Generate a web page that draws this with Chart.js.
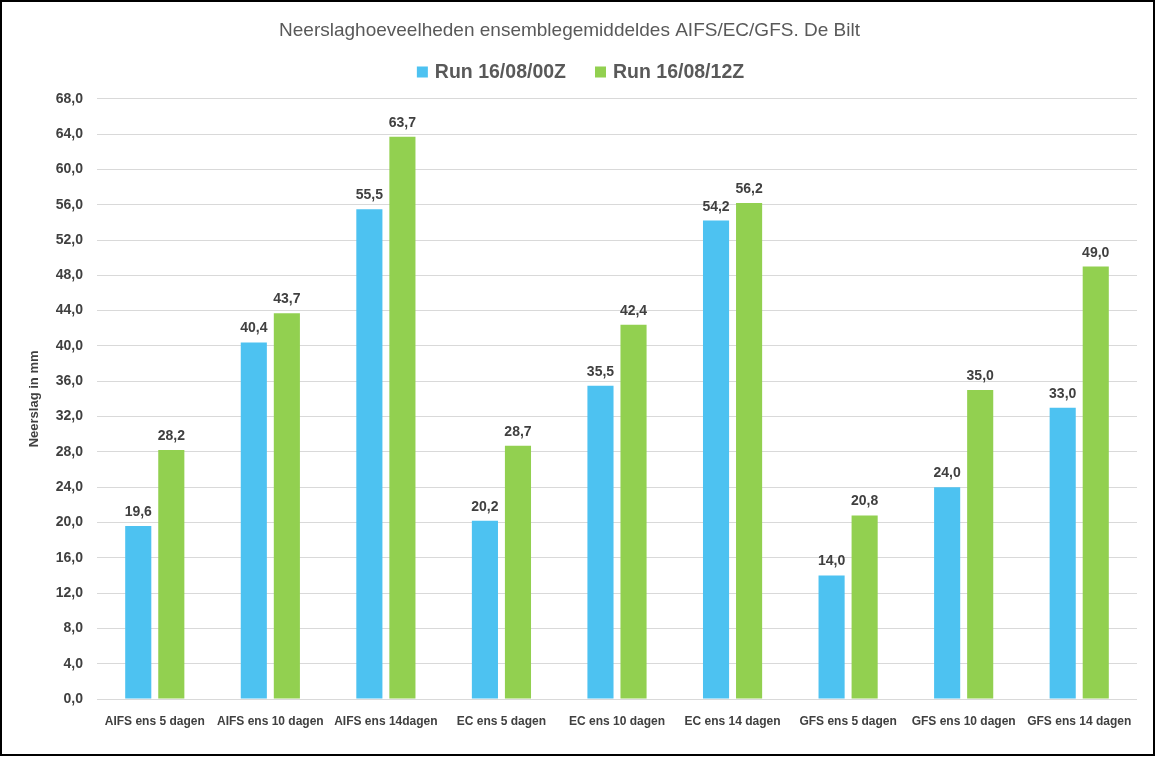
<!DOCTYPE html>
<html>
<head>
<meta charset="utf-8">
<script src="https://cdn.jsdelivr.net/npm/chart.js@4.4.1/dist/chart.umd.min.js"></script>
<style>
	html, body { margin: 0; padding: 0; background: #fff; }
	.wrapper {
		box-sizing: border-box;
		width: 1155px;
		height: 756px;
		border: 2px solid #000;
	}
	#chart { display: block; }
</style>
</head>
<body>
<div class="wrapper">
	<canvas id="chart" width="1151" height="752"></canvas>
</div>
<script>
// categories along the x axis
const categories = [
	'AIFS ens 5 dagen', 'AIFS ens 10 dagen', 'AIFS ens 14dagen',
	'EC ens 5 dagen', 'EC ens 10 dagen', 'EC ens 14 dagen',
	'GFS ens 5 dagen', 'GFS ens 10 dagen', 'GFS ens 14 dagen',
];
// series names
const seriesNames = ['Run 16/08/00Z', 'Run 16/08/12Z'];
// precipitation in mm per run
const run00 = [19.6, 40.4, 55.5, 20.2, 35.5, 54.2, 14.0, 24.0, 33.0];
const run12 = [28.2, 43.7, 63.7, 28.7, 42.4, 56.2, 20.8, 35.0, 49.0];
// y axis range
const yMin = 0;
const yMax = 68;
const yStep = 4;

const font = "'Liberation Sans', Arial, sans-serif";
const textColor = '#404040';
const fmt = (v) => v.toFixed(1).replace('.', ',');

// draws the value above every bar
const valueLabels = {
	id: 'valueLabels',
	afterDatasetsDraw(chart) {
		const ctx = chart.ctx;
		ctx.save();
		ctx.font = 'bold 14px ' + font;
		ctx.fillStyle = textColor;
		ctx.textAlign = 'center';
		ctx.textBaseline = 'alphabetic';
		chart.data.datasets.forEach((ds, i) => {
			chart.getDatasetMeta(i).data.forEach((bar, j) => {
				ctx.fillText(fmt(ds.data[j]), bar.x, bar.y - 10);
			});
		});
		ctx.restore();
	},
};

// legend centred under the title, small square then bold text
const topLegend = {
	id: 'topLegend',
	afterDraw(chart) {
		const ctx = chart.ctx;
		const box = 11, gap = 7, spacing = 29, y = 70;
		ctx.save();
		ctx.font = 'bold 19.5px ' + font;
		ctx.textBaseline = 'middle';
		const items = chart.data.datasets.map((ds) => ({
			text: ds.label,
			color: ds.backgroundColor,
			w: box + gap + ctx.measureText(ds.label).width,
		}));
		const total = items.reduce((s, it) => s + it.w, 0) + spacing * (items.length - 1);
		let x = chart.width / 2 + 3 - total / 2;
		items.forEach((it) => {
			ctx.fillStyle = it.color;
			ctx.fillRect(x, y - box / 2, box, box);
			ctx.fillStyle = '#595959';
			ctx.fillText(it.text, x + box + gap, y + 1);
			x += it.w + spacing;
		});
		ctx.restore();
	},
};

new Chart(document.getElementById('chart'), {
	type: 'bar',
	plugins: [valueLabels, topLegend],
	data: {
		labels: categories,
		datasets: [
			{ label: seriesNames[0], data: run00, backgroundColor: '#4DC2F1' },
			{ label: seriesNames[1], data: run12, backgroundColor: '#92D050' },
		],
	},
	options: {
		responsive: false,
		animation: false,
		layout: { padding: { top: 0, right: 16, left: 0, bottom: 0 } },
		datasets: { bar: { categoryPercentage: 0.572, barPercentage: 0.79 } },
		plugins: {
			tooltip: { enabled: false },
			legend: { display: false },
			title: {
				display: true,
				text: 'Neerslaghoeveelheden ensemblegemiddeldes AIFS/EC/GFS. De Bilt',
				color: '#595959',
				font: { family: font, size: 19, weight: 'normal' },
				padding: { top: 17, bottom: 57 },
			},
		},
		scales: {
			x: {
				grid: { display: false },
				border: { display: false },
				ticks: {
					color: textColor,
					font: { family: font, size: 12, weight: 'bold' },
					padding: 7,
					maxRotation: 0,
					autoSkip: false,
				},
				afterFit(scale) { scale.height = 55; },
			},
			y: {
				min: yMin,
				max: yMax,
				border: { display: false },
				grid: { color: '#D9D9D9', drawTicks: false },
				ticks: {
					stepSize: yStep,
					color: textColor,
					font: { family: font, size: 14, weight: 'bold' },
					padding: 14,
					callback: (v) => fmt(v),
				},
				title: {
					display: true,
					text: 'Neerslag in mm',
					color: textColor,
					font: { family: font, size: 13, weight: 'bold' },
					padding: { top: 25, bottom: 0 },
				},
				afterFit(scale) { scale.width = 95; },
			},
		},
	},
});
</script>
</body>
</html>
